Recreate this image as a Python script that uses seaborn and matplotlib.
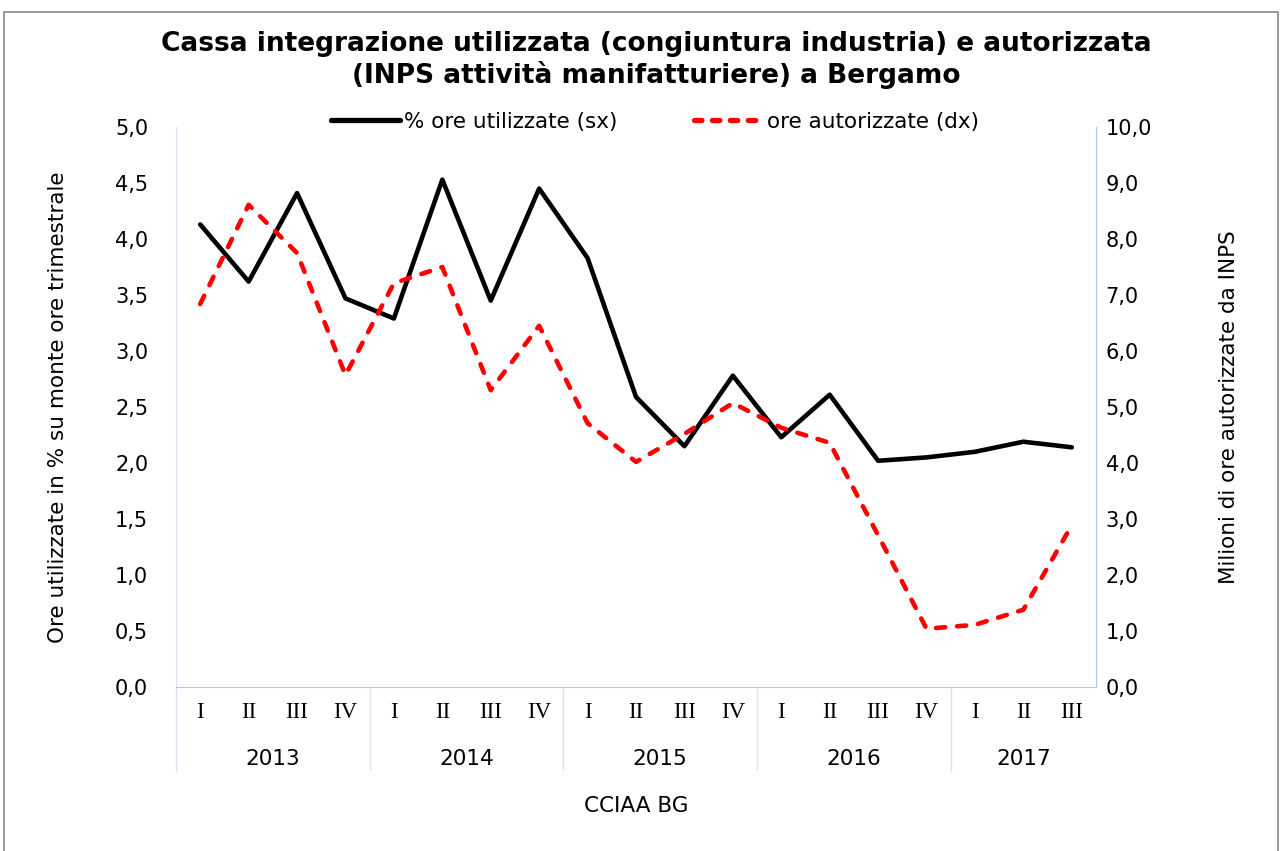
import seaborn as sns
import matplotlib.pyplot as plt
import pandas as pd
import numpy as np
from matplotlib.patches import Rectangle
from matplotlib.lines import Line2D

# data
years = ['2013', '2014', '2015', '2016', '2017']
quarters = ['I', 'II', 'III', 'IV',
            'I', 'II', 'III', 'IV',
            'I', 'II', 'III', 'IV',
            'I', 'II', 'III', 'IV',
            'I', 'II', 'III']
ore_utilizzate = [4.13, 3.62, 4.41, 3.47, 3.29, 4.53, 3.45, 4.45, 3.83, 2.59,
                  2.15, 2.78, 2.23, 2.61, 2.02, 2.05, 2.10, 2.19, 2.14]
ore_autorizzate = [6.84, 8.61, 7.75, 5.57, 7.21, 7.50, 5.30, 6.45, 4.71, 4.02,
                   4.52, 5.07, 4.63, 4.36, 2.71, 1.04, 1.11, 1.38, 2.89]

sns.set_style('white')
plt.rcParams['font.family'] = ['DejaVu Sans']
plt.rcParams['text.color'] = 'black'
plt.rcParams['axes.labelcolor'] = 'black'
plt.rcParams['xtick.color'] = 'black'
plt.rcParams['ytick.color'] = 'black'

df = pd.DataFrame({'pos': np.arange(len(quarters)),
                   'utilizzate': ore_utilizzate,
                   'autorizzate': ore_autorizzate})

fig = plt.figure(figsize=(12.82, 8.51), dpi=100)
ax = fig.add_axes([176 / 1282, 1 - 687 / 851, 920 / 1282, 560 / 851])
ax2 = ax.twinx()

sns.lineplot(data=df, x='pos', y='utilizzate', ax=ax, color='black', linewidth=3.3)
sns.lineplot(data=df, x='pos', y='autorizzate', ax=ax2, color='#ff0000',
             linewidth=3.3)
red = ax2.lines[0]
red.set_dashes([2.0, 2.6])
red.set_dash_capstyle('round')

ax.set_xlim(-0.5, len(quarters) - 0.5)
ax.set_ylim(0, 5)
ax2.set_ylim(0, 10)
ax.set_yticks(np.arange(0, 5.01, 0.5))
ax.set_yticklabels([f'{v:.1f}'.replace('.', ',') for v in np.arange(0, 5.01, 0.5)], fontsize=15)
ax2.set_yticks(np.arange(0, 10.01, 1))
ax2.set_yticklabels([f'{v:.1f}'.replace('.', ',') for v in np.arange(0, 10.01, 1)], fontsize=15)
ax.tick_params(axis='y', length=0, pad=20)
ax2.tick_params(axis='y', length=0, pad=7)

ax.set_xticks(df['pos'])
ax.set_xticklabels(quarters, family='Liberation Serif', fontsize=16.5)
ax.tick_params(axis='x', length=0, pad=11)
ax.set_xlabel('')
ax.set_ylabel('Ore utilizzate in % su monte ore trimestrale', fontsize=15.5, labelpad=34)
ax2.set_ylabel('Milioni di ore autorizzate da INPS', fontsize=15.5, labelpad=48)

axis_col = '#b4c7e7'
for a in (ax, ax2):
    for s in a.spines.values():
        s.set_visible(False)
ax.spines['left'].set_visible(True)
ax.spines['left'].set_color('#d9e1f2')
ax.spines['bottom'].set_visible(True)
ax.spines['bottom'].set_color(axis_col)
ax2.spines['right'].set_visible(True)
ax2.spines['right'].set_color(axis_col)

# year level of the category axis
trans = ax.get_xaxis_transform()
bounds = [-0.5, 3.5, 7.5, 11.5, 15.5, 18.5]
for i, yr in enumerate(years):
    ax.text((bounds[i] + bounds[i + 1]) / 2, -0.128, yr, transform=trans,
            ha='center', va='center', fontsize=15.5, clip_on=False)
for b in bounds[:-1]:
    ax.add_line(Line2D([b, b], [0, -0.148], transform=trans, color='#d9e1f2',
                       linewidth=1, clip_on=False))

fig.text(636 / 1282, 1 - 806 / 851, 'CCIAA BG', ha='center', va='center', fontsize=15.5)

fig.text(656 / 1282, 1 - 60 / 851,
         'Cassa integrazione utilizzata (congiuntura industria) e autorizzata\n(INPS attività manifatturiere) a Bergamo',
         ha='center', va='center', fontsize=19, fontweight='bold', linespacing=1.15)

leg_red = Line2D([], [], color='#ff0000', linewidth=3.8, dashes=[1.4, 2.0])
leg_red.set_dash_capstyle('round')
handles = [Line2D([], [], color='black', linewidth=3.8, solid_capstyle='round'), leg_red]
fig.legend(handles, ['% ore utilizzate (sx)', 'ore autorizzate (dx)'],
           loc='center', bbox_to_anchor=(655 / 1282, 1 - 122 / 851), ncol=2,
           frameon=False, fontsize=15.5, handlelength=3.2, handletextpad=0.15,
           columnspacing=3.6)

fig.add_artist(Rectangle((4 / 1282, -0.01), 1274 / 1282, 1 - 12 / 851 + 0.01,
                         transform=fig.transFigure, fill=False,
                         edgecolor='#888888', linewidth=1.2))

fig.savefig('out.png', dpi=100)
